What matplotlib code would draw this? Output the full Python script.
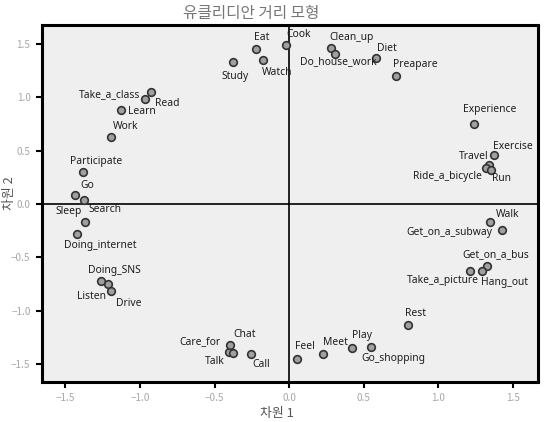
import matplotlib
matplotlib.use('Agg')
from matplotlib import pyplot as plt

plt.rcParams['font.family'] = ['Noto Sans CJK KR', 'DejaVu Sans']

# MDS coordinates (dimension 1, dimension 2)
names = ['Eat', 'Cook', 'Watch', 'Study', 'Clean_up', 'Do_house_work', 'Diet',
         'Preapare', 'Experience', 'Exercise', 'Travel', 'Ride_a_bicycle', 'Run',
         'Walk', 'Get_on_a_subway', 'Get_on_a_bus', 'Take_a_picture', 'Hang_out',
         'Rest', 'Play', 'Meet', 'Go_shopping', 'Feel', 'Take_a_class', 'Read',
         'Learn', 'Work', 'Participate', 'Go', 'Search', 'Sleep', 'Doing_internet',
         'Doing_SNS', 'Listen', 'Drive', 'Care_for', 'Chat', 'Talk', 'Call']
dim1 = [-0.223, -0.020, -0.174, -0.375, 0.281, 0.304, 0.583,
        0.717, 1.239, 1.373, 1.336, 1.318, 1.349,
        1.346, 1.423, 1.322, 1.210, 1.289,
        0.797, 0.547, 0.228, 0.418, 0.050, -0.966, -0.928,
        -1.129, -1.194, -1.384, -1.437, -1.373, -1.368, -1.422,
        -1.212, -1.259, -1.194, -0.404, -0.399, -0.377, -0.254]
dim2 = [1.456, 1.487, 1.350, 1.328, 1.462, 1.409, 1.365,
        1.197, 0.753, 0.456, 0.363, 0.337, 0.319,
        -0.172, -0.241, -0.584, -0.631, -0.631,
        -1.137, -1.337, -1.409, -1.347, -1.450, 0.981, 1.047,
        0.878, 0.625, 0.300, 0.081, 0.040, -0.172, -0.281,
        -0.750, -0.722, -0.818, -1.384, -1.319, -1.393, -1.406]

# label placement: (dx, dy) in pixels from the point, horizontal alignment
label_pos = {
    'Eat': (6, 11, 'center'), 'Cook': (0, 11, 'left'), 'Watch': (14, -13, 'center'),
    'Study': (2, -14, 'center'), 'Clean_up': (20, 11, 'center'),
    'Do_house_work': (4, -8, 'center'), 'Diet': (11, 10, 'center'),
    'Preapare': (19, 12, 'center'), 'Experience': (16, 14, 'center'),
    'Exercise': (19, 9, 'center'), 'Travel': (-15, 9, 'center'),
    'Ride_a_bicycle': (-39, -8, 'center'), 'Run': (11, -9, 'center'),
    'Walk': (17, 8, 'center'), 'Get_on_a_subway': (-9, -3, 'right'),
    'Get_on_a_bus': (9, 12, 'center'), 'Take_a_picture': (9, -9, 'right'),
    'Hang_out': (23, -11, 'center'), 'Rest': (7, 12, 'center'),
    'Play': (-9, 11, 'center'), 'Meet': (12, 12, 'center'),
    'Go_shopping': (10, -11, 'left'), 'Feel': (8, 12, 'center'),
    'Take_a_class': (-5, 5, 'right'), 'Read': (17, -11, 'center'),
    'Learn': (7, -1, 'left'), 'Work': (15, 11, 'center'),
    'Participate': (14, 11, 'center'), 'Go': (13, 10, 'center'),
    'Search': (21, -10, 'center'), 'Sleep': (-16, 11, 'center'),
    'Doing_internet': (23, -11, 'center'), 'Doing_SNS': (6, 14, 'center'),
    'Listen': (-10, -15, 'center'), 'Drive': (18, -12, 'center'),
    'Care_for': (-8, 10, 'right'), 'Chat': (15, 10, 'center'),
    'Talk': (-18, -9, 'center'), 'Call': (10, -10, 'center'),
}

fig = plt.figure(figsize=(5.45, 4.22), dpi=100)
ax = fig.add_axes([0.0765, 0.0955, 0.9105, 0.8453])
ax.set_facecolor('#efefef')

ax.axhline(0, color='black', lw=1.2, zorder=1)
ax.axvline(0, color='black', lw=1.2, zorder=1)
ax.plot(dim1, dim2, 'o', ms=5.5, mfc='#a0a0a0', mec='#333333', mew=1.2,
        ls='none', zorder=3)

for n, x, y in zip(names, dim1, dim2):
    dx, dy, ha = label_pos[n]
    ax.annotate(n, (x, y), xytext=(dx, dy), textcoords='offset pixels',
                ha=ha, va='center', fontsize=7.4, color='#1e1e1e',
                family=['Noto Sans', 'DejaVu Sans'], zorder=4)

ax.set_xlim(-1.658, 1.666)
ax.set_ylim(-1.665, 1.678)
ax.set_xticks([-1.5, -1.0, -0.5, 0.0, 0.5, 1.0, 1.5])
ax.set_yticks([-1.5, -1.0, -0.5, 0.0, 0.5, 1.0, 1.5])
ax.tick_params(direction='out', length=4, width=1.5, color='black',
               labelsize=7.2, labelcolor='#a8a8a8', pad=4)
for s in ax.spines.values():
    s.set_linewidth(2.2)
    s.set_color('black')

fig.text(0.4606, 0.968, '유클리디안 거리 모형', ha='center', va='center',
         fontsize=11.3, color='#777777')
fig.text(0.508, 0.02, '차원 1', ha='center', va='center', fontsize=9.3,
         color='#555555')
fig.text(0.017, 0.543, '차원 2', ha='center', va='center', fontsize=9.3,
         color='#555555', rotation=90)

plt.savefig('out.png', dpi=100)
